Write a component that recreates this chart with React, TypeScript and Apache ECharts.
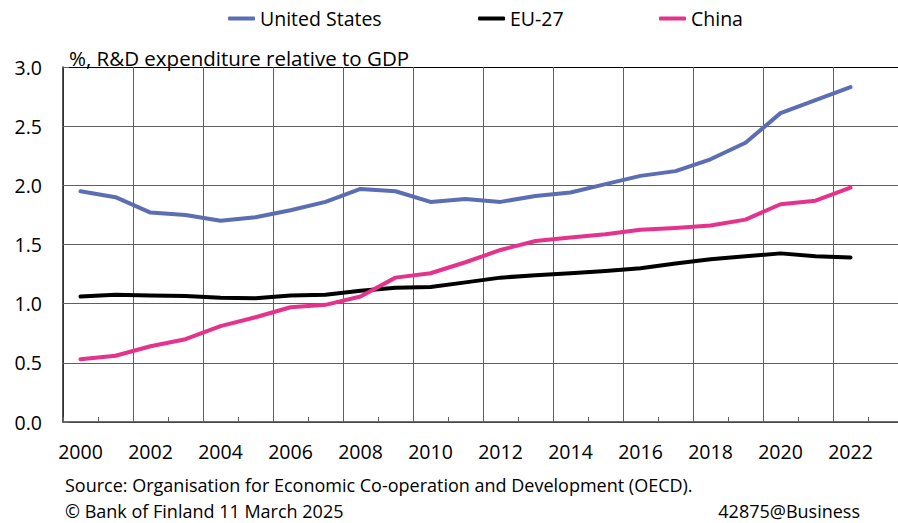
import React, { useEffect, useRef } from "react";
import * as echarts from "echarts";

const years = ["2000","2001","2002","2003","2004","2005","2006","2007","2008","2009","2010","2011","2012","2013","2014","2015","2016","2017","2018","2019","2020","2021","2022","2023"];
const unitedStates = [1.95,1.90,1.77,1.75,1.70,1.73,1.79,1.86,1.97,1.95,1.86,1.885,1.86,1.91,1.94,2.01,2.08,2.12,2.22,2.36,2.61,2.72,2.83,null];
const eu27 = [1.06,1.075,1.07,1.065,1.05,1.045,1.07,1.075,1.11,1.135,1.14,1.18,1.22,1.24,1.257,1.276,1.30,1.34,1.375,1.40,1.425,1.40,1.39,null];
const china = [0.53,0.56,0.64,0.70,0.81,0.885,0.97,0.99,1.06,1.22,1.257,1.35,1.454,1.53,1.56,1.587,1.625,1.64,1.66,1.71,1.84,1.87,1.98,null];
const yTicks = [0, 0.5, 1.0, 1.5, 2.0, 2.5, 3.0];
const seriesNames = ["United States", "EU-27", "China"];
const seriesColors = ["#5b6eb3", "#000000", "#e5328b"];

const FONT = "Open Sans";
const GRID = "#5f5f5f";

export default function App() {
  const ref = useRef<HTMLDivElement>(null);
  useEffect(() => {
    if (!ref.current) return;
    const chart = echarts.init(ref.current, undefined, { renderer: "svg" });
    const legendLefts = [223, 473, 654];
    const legendBase = {
      top: 3.5,
      itemWidth: 27,
      itemHeight: 4,
      icon: "roundRect",
      textStyle: { fontSize: 19.5, color: "#000", fontFamily: FONT },
    };
    const datas = [unitedStates, eu27, china];
    chart.setOption({
      animation: false,
      textStyle: { fontFamily: FONT },
      legend: seriesNames.map((n, i) => ({ ...legendBase, left: legendLefts[i], data: [n] })),
      grid: { left: 63, right: 7, top: 67, bottom: 101 },
      xAxis: {
        type: "category",
        data: years,
        boundaryGap: true,
        axisLine: { lineStyle: { color: "#404040", width: 1.5 } },
        axisTick: { show: true, inside: true, length: 5, interval: 0, lineStyle: { color: "#606060" } },
        axisLabel: { interval: 1, fontSize: 19.5, color: "#000", margin: 19, fontFamily: FONT },
        splitLine: {
          show: true,
          interval: (i: number) => i % 2 === 0,
          lineStyle: { color: GRID, width: 1 },
        },
      },
      yAxis: {
        type: "value",
        min: yTicks[0],
        max: yTicks[yTicks.length - 1],
        interval: 0.5,
        axisLine: { show: true, lineStyle: { color: "#202020", width: 1.5 } },
        axisTick: { show: true, inside: true, length: 6, lineStyle: { color: "#606060" } },
        axisLabel: { fontSize: 19.5, color: "#000", margin: 21, formatter: (v: number) => v.toFixed(1), fontFamily: FONT },
        splitLine: {
          show: true,
          lineStyle: { color: [GRID, GRID, GRID, GRID, GRID, GRID, "#000000"], width: 1 },
        },
      },
      series: seriesNames.map((n, i) => ({
        name: n,
        type: "line",
        data: datas[i],
        symbol: "none",
        lineStyle: { color: seriesColors[i], width: 4, cap: "round", join: "round" },
        itemStyle: { color: seriesColors[i] },
      })),
      graphic: [
        { type: "text", x: 69, y: 57.5, style: { text: "%, R&D expenditure relative to GDP", fontSize: 20.5, fill: "#000", fontFamily: FONT, verticalAlign: "middle" } },
        { type: "text", x: 65, y: 485, style: { text: "Source: Organisation for Economic Co-operation and Development (OECD).", fontSize: 18, fill: "#000", fontFamily: FONT, verticalAlign: "middle" } },
        { type: "text", x: 65, y: 510.5, style: { text: "© Bank of Finland 11 March 2025", fontSize: 18, fill: "#000", fontFamily: FONT, verticalAlign: "middle" } },
        { type: "text", x: 860, y: 510.5, style: { text: "42875@Business", fontSize: 18, fill: "#000", fontFamily: FONT, verticalAlign: "middle", align: "right" } },
      ],
    });
    return () => chart.dispose();
  }, []);
  return (
    <div style={{ position: "fixed", left: 0, top: 0, width: 898, height: 523, overflow: "hidden", background: "#fff" }}>
      <div ref={ref} style={{ width: 910, height: 523 }} />
    </div>
  );
}
